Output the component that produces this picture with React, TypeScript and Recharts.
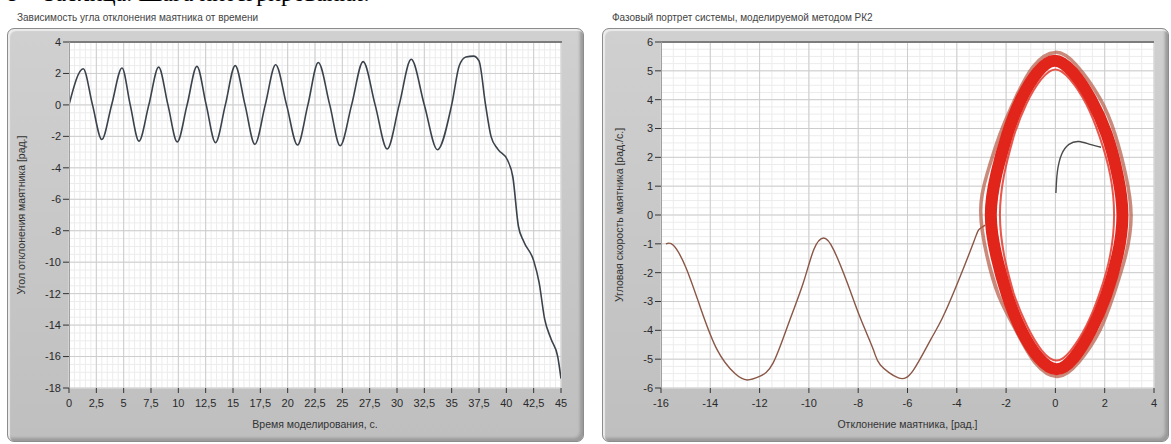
import React from "react";
import { LineChart, Line, XAxis, YAxis, CartesianGrid } from "recharts";

// ---- левый график: угол отклонения от времени ----
const timeS = [0, 1.3, 2.15, 3.0, 3.9, 4.85, 5.6, 6.4, 7.3, 8.2, 9.05, 9.9, 10.8, 11.7, 12.55, 13.4, 14.3, 15.2, 16.1, 17.0, 17.95, 18.9, 19.9, 20.9, 21.85, 22.8, 23.85, 24.8, 25.85, 26.9, 28.0, 29.1, 30.2, 31.3, 32.5, 33.7, 35.0, 35.7, 36.3, 37.0, 37.5, 38.1, 38.6, 39.2, 40.1, 40.6, 41.1, 41.6, 42.5, 43.0, 43.5, 44.1, 44.7, 45];
const angleRad = [0, 2.3, 0, -2.2, 0, 2.35, 0, -2.3, 0, 2.4, 0, -2.35, 0, 2.45, 0, -2.4, 0, 2.5, 0, -2.5, 0, 2.55, 0, -2.55, 0, 2.7, 0, -2.6, 0, 2.75, 0, -2.8, 0, 2.9, 0, -2.85, 0, 2.5, 3.05, 3.1, 2.8, 0, -2.0, -2.8, -3.5, -4.6, -7.7, -8.7, -9.9, -11.3, -13.6, -14.9, -16.0, -17.4];
const timeTicks = [0, 2.5, 5, 7.5, 10, 12.5, 15, 17.5, 20, 22.5, 25, 27.5, 30, 32.5, 35, 37.5, 40, 42.5, 45];
const angleTicks = [4, 2, 0, -2, -4, -6, -8, -10, -12, -14, -16, -18];

// ---- правый график: фазовый портрет ----
// начальный участок траектории
const leadX = [0.02, 0.08, 0.25, 0.55, 0.95, 1.4, 1.85];
const leadY = [0.76, 1.5, 2.1, 2.45, 2.55, 2.45, 2.35];
// предельный цикл (полоса из множества витков); витки чуть перекрываются
const orbitOuterX = [-2.3, -2.78, -3.03, -2.78, -2.25, -1.65, -0.9, 0, 0.85, 1.8, 2.42, 2.85, 3.07, 2.85, 2.35, 1.8, 0.95, 0.1, -0.8, -1.6, -2.3, -2.78, -3.03, -2.78, -2.25];
const orbitOuterY = [-2.8, -1.4, 0.15, 1.4, 2.8, 4.0, 5.15, 5.64, 5.2, 4.05, 2.8, 1.4, 0.0, -1.4, -2.8, -4.0, -5.1, -5.6, -5.15, -4.0, -2.8, -1.4, 0.15, 1.4, 2.8];
const orbitMidX = [-1.95, -2.4, -2.62, -2.4, -1.95, -1.4, -0.72, -0.03, 0.7, 1.45, 2.08, 2.52, 2.72, 2.52, 2.05, 1.45, 0.75, 0.05, -0.68, -1.38, -1.95, -2.4, -2.62, -2.4, -1.95];
const orbitMidY = [-2.8, -1.4, 0.0, 1.4, 2.8, 4.0, 4.95, 5.35, 4.95, 4.0, 2.8, 1.4, 0.0, -1.4, -2.8, -4.0, -4.95, -5.35, -4.95, -4.0, -2.8, -1.4, 0.0, 1.4, 2.8];
const orbitInnerX = [-1.7, -2.08, -2.25, -2.08, -1.7, -1.18, -0.58, 0, 0.6, 1.25, 1.8, 2.22, 2.38, 2.22, 1.8, 1.25, 0.62, 0.05, -0.55, -1.15, -1.7, -2.08, -2.25, -2.08, -1.7];
const orbitInnerY = [-2.7, -1.4, 0, 1.4, 2.7, 3.85, 4.7, 5.05, 4.7, 3.85, 2.7, 1.4, 0, -1.4, -2.7, -3.85, -4.7, -5.05, -4.7, -3.85, -2.7, -1.4, 0, 1.4, 2.7];
// уход маятника в проворот
const tailX = [-2.85, -3.1, -3.3, -3.97, -4.6, -5.07, -5.76, -6.37, -7.1, -7.38, -7.9, -8.44, -9.0, -9.4, -9.8, -10.23, -10.8, -11.45, -12.0, -12.5, -13.0, -13.72, -14.41, -15.0, -15.5, -15.8];
const tailY = [-0.35, -0.5, -0.9, -2.36, -3.6, -4.34, -5.38, -5.65, -5.2, -4.68, -3.6, -2.36, -1.2, -0.8, -1.2, -2.36, -3.7, -5.13, -5.6, -5.72, -5.5, -4.68, -3.19, -1.8, -1.05, -1.0];
const phaseXTicks = [-16, -14, -12, -10, -8, -6, -4, -2, 0, 2, 4];
const phaseYTicks = [6, 5, 4, 3, 2, 1, 0, -1, -2, -3, -4, -5, -6];

const zip = (xs: number[], ys: number[]) => xs.map((x, i) => ({ x, y: ys[i] }));
const range = (a: number, b: number, step: number) => {
  const out: number[] = [];
  for (let v = a; v <= b + 1e-9; v += step) out.push(+v.toFixed(3));
  return out;
};

const timeData = zip(timeS, angleRad);
const comma = (v: number) => String(v).replace(".", ",");

const FONT = '"Liberation Sans", Arial, sans-serif';
const tickStyle = { fontSize: 11, fill: "#2a2a2a", fontFamily: FONT };
const titleStyle = { fontSize: 10.5, fill: "#333", fontFamily: FONT };

function Frame({ left, width, title }: { left: number; width: number; title: string }) {
  return (
    <>
      <div style={{ position: "absolute", left: left + 10, top: 12, fontSize: 10, color: "#444", fontFamily: FONT, whiteSpace: "nowrap" }}>
        {title}
      </div>
      <div
        style={{
          position: "absolute",
          left,
          top: 28,
          width,
          height: 414,
          boxSizing: "border-box",
          borderRadius: 7,
          border: "1px solid #8c8c8c",
          background: "linear-gradient(#d0d0d0, #bfbfbf)",
          boxShadow: "inset 2px 2px 1px #ececec, inset -3px -3px 3px #9a9a9a",
        }}
      />
    </>
  );
}

function PlotEdge({ left, width }: { left: number; width: number }) {
  return (
    <div
      style={{
        position: "absolute",
        left,
        top: 41,
        width,
        height: 347,
        boxSizing: "border-box",
        borderTop: "2px solid #7c7c7c",
        borderLeft: "1px solid #a0a0a0",
        pointerEvents: "none",
      }}
    />
  );
}

export default function App() {
  return (
    <div style={{ position: "absolute", left: 0, top: 0, width: 1171, height: 444, background: "#fff", overflow: "hidden" }}>
      <div style={{ position: "absolute", left: 8, top: -19, fontFamily: '"Liberation Serif", serif', fontSize: 24, lineHeight: "24px", color: "#000", whiteSpace: "nowrap" }}>
        з – Таблица. Шага интегрирования.
      </div>

      <Frame left={7} width={577} title="Зависимость угла отклонения маятника от времени" />
      <Frame left={602} width={567} title="Фазовый портрет системы, моделируемой методом РК2" />

      <div style={{ position: "absolute", left: 7, top: 28 }}>
        <LineChart width={577} height={414} margin={{ top: 14, right: 23, bottom: 24, left: 8 }}>
          <CartesianGrid
            fill="#fff"
            stroke="#ececec"
            verticalValues={range(0, 45, 0.5)}
            horizontalValues={range(-18, 4, 0.5)}
          />
          <CartesianGrid stroke="#cdcdcd" />
          <XAxis
            type="number"
            dataKey="x"
            domain={[0, 45]}
            ticks={timeTicks}
            tickFormatter={comma}
            allowDataOverflow
            axisLine={false}
            tickLine={{ stroke: "#333" }}
            tickSize={5}
            tickMargin={6}
            height={30}
            tick={tickStyle}
            interval={0}
            label={{ value: "Время моделирования, с.", position: "bottom", offset: 3, style: titleStyle }}
          />
          <YAxis
            type="number"
            dataKey="y"
            domain={[-18, 4]}
            ticks={angleTicks}
            allowDataOverflow
            axisLine={false}
            tickLine={{ stroke: "#333" }}
            tickSize={6}
            tickMargin={2}
            width={54}
            tick={tickStyle}
            interval={0}
            label={{ value: "Угол отклонения маятника [рад.]", angle: -90, position: "insideLeft", offset: 6, style: { ...titleStyle, textAnchor: "middle" } }}
          />
          <Line data={timeData} dataKey="y" type="monotone" stroke="#3a424c" strokeWidth={1.6} dot={false} isAnimationActive={false} />
        </LineChart>
      </div>

      <div style={{ position: "absolute", left: 602, top: 28 }}>
        <LineChart width={567} height={414} margin={{ top: 14, right: 15, bottom: 24, left: 8 }}>
          <CartesianGrid
            fill="#fff"
            stroke="#ececec"
            verticalValues={range(-16, 4, 0.5)}
            horizontalValues={range(-6, 6, 0.25)}
          />
          <CartesianGrid stroke="#cdcdcd" />
          <XAxis
            type="number"
            dataKey="x"
            domain={[-16, 4]}
            ticks={phaseXTicks}
            allowDataOverflow
            axisLine={false}
            tickLine={{ stroke: "#333" }}
            tickSize={5}
            tickMargin={6}
            height={30}
            tick={tickStyle}
            interval={0}
            label={{ value: "Отклонение маятника, [рад.]", position: "bottom", offset: 3, style: titleStyle }}
          />
          <YAxis
            type="number"
            dataKey="y"
            domain={[-6, 6]}
            ticks={phaseYTicks}
            allowDataOverflow
            axisLine={false}
            tickLine={{ stroke: "#333" }}
            tickSize={6}
            tickMargin={2}
            width={51}
            tick={tickStyle}
            interval={0}
            label={{ value: "Угловая скорость маятника [рад./с.]", angle: -90, position: "insideLeft", offset: 9, style: { ...titleStyle, textAnchor: "middle" } }}
          />
          <Line data={zip(tailX, tailY)} dataKey="y" type="natural" stroke="#8a5646" strokeWidth={1.4} dot={false} isAnimationActive={false} />
          <Line data={zip(orbitOuterX, orbitOuterY)} dataKey="y" type="natural" stroke="#b55a44" strokeOpacity={0.7} strokeWidth={3.5} dot={false} isAnimationActive={false} />
          <Line data={zip(orbitMidX, orbitMidY)} dataKey="y" type="natural" stroke="#e1251b" strokeWidth={12} dot={false} isAnimationActive={false} />
          <Line data={zip(orbitInnerX, orbitInnerY)} dataKey="y" type="natural" stroke="#e33a2e" strokeOpacity={0.85} strokeWidth={2} dot={false} isAnimationActive={false} />
          <Line data={zip(leadX, leadY)} dataKey="y" type="natural" stroke="#4a4a4a" strokeWidth={1.4} dot={false} isAnimationActive={false} />
        </LineChart>
      </div>

      <PlotEdge left={69} width={493} />
      <PlotEdge left={661} width={493} />
    </div>
  );
}
